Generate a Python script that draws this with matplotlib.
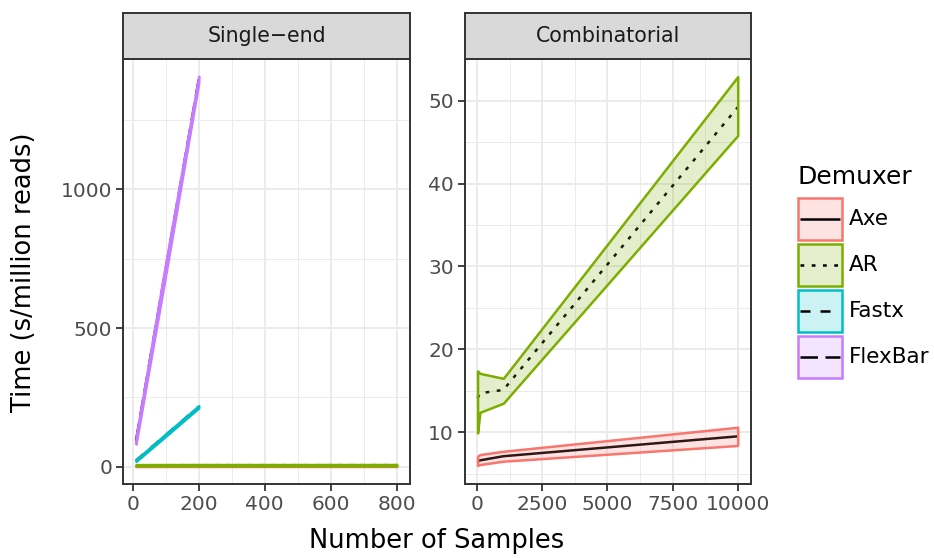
import matplotlib.pyplot as plt
from matplotlib.colors import to_rgba
from matplotlib.patches import Rectangle
from matplotlib.ticker import MultipleLocator

plt.rcParams['font.family'] = ['DejaVu Sans']

demuxers = ["Axe", "AR", "Fastx", "FlexBar"]
colours = {"Axe": "#F8766D", "AR": "#7CAE00", "Fastx": "#00BFC4", "FlexBar": "#C77CFF"}
dash_styles = {"Axe": None, "AR": (1.5, 3), "Fastx": (4, 4), "FlexBar": (7, 3)}

# Single-end runs (s / million reads)
se_x = [10, 100, 200, 400, 800]
se_axe = [2.4, 2.5, 2.5, 2.6, 2.6]
se_axe_lo = [0.6, 0.7, 0.7, 0.8, 0.8]
se_axe_hi = [4.2, 4.3, 4.3, 4.4, 4.4]
se_ar = [5.2, 5.3, 5.4, 5.4, 5.5]
se_ar_lo = [2.8, 2.9, 3.0, 3.0, 3.1]
se_ar_hi = [7.6, 7.7, 7.8, 7.8, 7.9]
se_short_x = [10, 100, 200]
se_fastx = [22, 114, 216]
se_fastx_lo = [19, 110, 212]
se_fastx_hi = [25, 118, 220]
se_flexbar = [94, 713, 1396]
se_flexbar_lo = [82, 692, 1384]
se_flexbar_hi = [106, 734, 1408]

# Combinatorial runs
co_x = [10, 100, 1000, 10000]
co_axe = [6.5, 6.6, 7.1, 9.5]
co_axe_lo = [6.0, 6.1, 6.5, 8.4]
co_axe_hi = [7.1, 7.3, 7.7, 10.6]
co_ar = [14.1, 14.7, 15.1, 49.2]
co_ar_lo = [9.9, 12.4, 13.5, 45.8]
co_ar_hi = [17.4, 17.1, 16.5, 52.9]

single_end = {
    "Axe": (se_x, se_axe, se_axe_lo, se_axe_hi),
    "AR": (se_x, se_ar, se_ar_lo, se_ar_hi),
    "Fastx": (se_short_x, se_fastx, se_fastx_lo, se_fastx_hi),
    "FlexBar": (se_short_x, se_flexbar, se_flexbar_lo, se_flexbar_hi),
}
combinatorial = {
    "Axe": (co_x, co_axe, co_axe_lo, co_axe_hi),
    "AR": (co_x, co_ar, co_ar_lo, co_ar_hi),
}

W, H = 934, 558
fig = plt.figure(figsize=(W / 100, H / 100), dpi=100)

panel_bottom = (H - 484) / H
panel_top = (H - 59) / H
strip_h = 46 / H
ribbon_lw = 1.8


def styled_line(ax, x, y, name):
    ln, = ax.plot(x, y, color="black", lw=1.8, solid_capstyle="butt", zorder=3)
    if dash_styles[name]:
        ln.set_dashes(dash_styles[name])
        ln.set_dash_capstyle("butt")
    return ln


def draw_panel(left_px, right_px, series, title, xlim, ylim, xmaj, xmin_, ymaj, ymin_):
    ax = fig.add_axes([left_px / W, panel_bottom, (right_px - left_px) / W, panel_top - panel_bottom])
    # lines first, ribbons on top (like the ggplot layer order)
    for name, (x, m, lo, hi) in series.items():
        styled_line(ax, x, m, name)
    for name, (x, m, lo, hi) in series.items():
        ax.fill_between(x, lo, hi, facecolor=to_rgba(colours[name], 0.2),
                        edgecolor=colours[name], lw=ribbon_lw, zorder=4)
    ax.set_xlim(*xlim)
    ax.set_ylim(*ylim)
    ax.xaxis.set_major_locator(MultipleLocator(xmaj))
    ax.xaxis.set_minor_locator(MultipleLocator(xmin_))
    ax.yaxis.set_major_locator(MultipleLocator(ymaj))
    ax.yaxis.set_minor_locator(MultipleLocator(ymin_))
    ax.grid(which="major", color="#EBEBEB", lw=1.4, zorder=0)
    ax.grid(which="minor", color="#EBEBEB", lw=0.7, zorder=0)
    ax.set_axisbelow(True)
    for s in ax.spines.values():
        s.set_color("#333333")
        s.set_linewidth(1.4)
        s.set_zorder(6)
    ax.tick_params(which="major", length=5, width=1.3, color="#333333",
                   labelcolor="#4D4D4D", labelsize=14.5, pad=3)
    ax.tick_params(which="minor", length=0)

    strip = fig.add_axes([left_px / W, panel_top, (right_px - left_px) / W, strip_h])
    strip.set_facecolor("#D9D9D9")
    strip.set_xticks([])
    strip.set_yticks([])
    for s in strip.spines.values():
        s.set_color("#333333")
        s.set_linewidth(1.4)
    strip.text(0.5, 0.5, title, ha="center", va="center", fontsize=14.8,
               color="#1A1A1A", transform=strip.transAxes)
    return ax


ax1 = draw_panel(123.3, 410, single_end, "Single\u2212end",
                 (-28.5, 840), (-62.4, 1470), 200, 100, 500, 250)
ax2 = draw_panel(465, 750.7, combinatorial, "Combinatorial",
                 (-472, 10499), (3.75, 55.03), 2500, 1250, 10, 5)

fig.text(437 / W, 1 - 541 / H, "Number of Samples", ha="center", va="center", fontsize=18.5)
fig.text(24 / W, 1 - 272 / H, "Time (s/million reads)", ha="center", va="center",
         rotation=90, fontsize=18.5)

# legend drawn by hand in pixel coordinates (ggplot-style keys)
lax = fig.add_axes([0, 0, 1, 1], zorder=10)
lax.set_xlim(0, W)
lax.set_ylim(H, 0)
lax.axis("off")
lax.text(797, 184, "Demuxer", ha="left", va="baseline", fontsize=18)
key_left, key_top, key_w, key_h, key_step = 797.5, 197.5, 44, 42.5, 46
for i, name in enumerate(demuxers):
    top = key_top + i * key_step
    lax.add_patch(Rectangle((key_left, top), key_w, key_h,
                            facecolor=to_rgba(colours[name], 0.2),
                            edgecolor=colours[name], lw=ribbon_lw))
    styled_line(lax, [key_left + 2, key_left + key_w - 2], [top + key_h / 2] * 2, name)
    lax.text(key_left + key_w + 7, top + key_h / 2, name, ha="left", va="center", fontsize=15.5)

fig.savefig("out.png", dpi=100)
